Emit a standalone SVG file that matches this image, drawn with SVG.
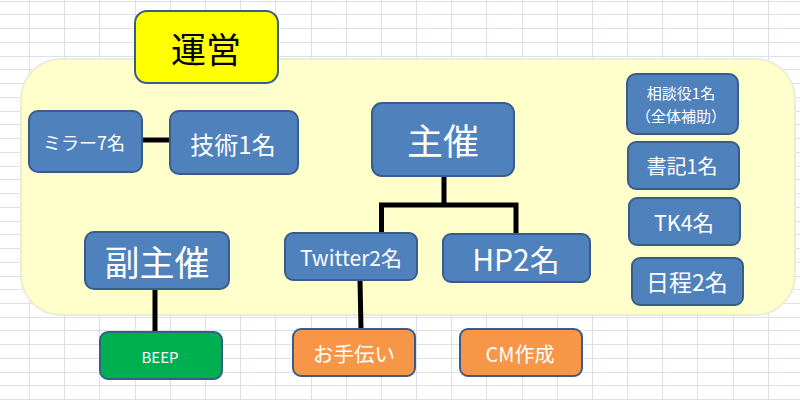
<svg xmlns="http://www.w3.org/2000/svg" width="800" height="400" viewBox="0 0 800 400">
<style>
text{font-family:"Noto Sans CJK JP","Noto Sans",sans-serif;text-anchor:middle;dominant-baseline:central;fill:#fff}
.grid{stroke:#dce0eb;stroke-width:1;fill:none}
.blue{fill:#4f81bd;stroke:#385d8a;stroke-width:2}
.green{fill:#00b050;stroke:#385d8a;stroke-width:2}
.orange{fill:#f79646;stroke:#385d8a;stroke-width:2}
.conn{stroke:#000;stroke-width:5;fill:none;stroke-linejoin:miter}
</style>
<rect width="800" height="400" fill="#fff"/>
<path class="grid" d="M29.5 0V400M64.5 0V400M99.5 0V400M135.5 0V400M170.5 0V400M205.5 0V400M240.5 0V400M275.5 0V400M311.5 0V400M346.5 0V400M381.5 0V400M416.5 0V400M451.5 0V400M486.5 0V400M522.5 0V400M557.5 0V400M592.5 0V400M627.5 0V400M662.5 0V400M697.5 0V400M733.5 0V400M768.5 0V400
M0 1.5H800M0 14.5H800M0 28.5H800M0 42.5H800M0 56.5H800M0 69.5H800M0 83.5H800M0 97.5H800M0 111.5H800M0 124.5H800M0 138.5H800M0 152.5H800M0 166.5H800M0 179.5H800M0 193.5H800M0 207.5H800M0 221.5H800M0 234.5H800M0 248.5H800M0 262.5H800M0 276.5H800M0 289.5H800M0 303.5H800M0 317.5H800M0 330.5H800M0 344.5H800M0 358.5H800M0 372.5H800M0 385.5H800M0 399.5H800"/>
<g id="panel"><rect x="21" y="59" width="774" height="256" rx="40" fill="#ffffcc" stroke="#eeecd6" stroke-width="2"/></g>
<g id="title"><rect x="135" y="11" width="143" height="72" rx="12" fill="#ffff00" stroke="#385d8a" stroke-width="2"/><text x="206" y="47" font-size="35" style="fill:#000">運営</text></g>
<g id="connectors">
<path class="conn" d="M141 140H171"/>
<path class="conn" d="M444 175V205H381.5V233M444 205H516V234"/>
<path class="conn" d="M155 289V332"/>
<path class="conn" d="M360 280L361 329"/>
</g>
<g id="mirror"><rect class="blue" x="29" y="111" width="113" height="61" rx="9"/><text x="84" y="142" font-size="18">ミラー7名</text></g>
<g id="gijutsu"><rect class="blue" x="170" y="111" width="128" height="63" rx="9"/><text x="233" y="143" font-size="24">技術1名</text></g>
<g id="shusai"><rect class="blue" x="372" y="103" width="142" height="73" rx="10"/><text x="443" y="139" font-size="36">主催</text></g>
<g id="fukushusai"><rect class="blue" x="85" y="232" width="144" height="57" rx="9"/><text x="157" y="260" font-size="35">副主催</text></g>
<g id="twitter"><rect class="blue" x="285" y="233" width="132" height="47" rx="8"/><text x="351" y="257" font-size="21">Twitter2名</text></g>
<g id="hp"><rect class="blue" x="443" y="234" width="147" height="48" rx="8"/><text x="516" y="258" font-size="30">HP2名</text></g>
<g id="beep"><rect class="green" x="100" y="332" width="122" height="47" rx="8"/><text x="160" y="356" font-size="15">BEEP</text></g>
<g id="otetsudai"><rect class="orange" x="293" y="329" width="122" height="47" rx="8"/><text x="354" y="353" font-size="20.5">お手伝い</text></g>
<g id="cm"><rect class="orange" x="460" y="329" width="122" height="47" rx="8"/><text x="520" y="353" font-size="20">CM作成</text></g>
<g id="sodan"><rect class="blue" x="627" y="74" width="111" height="60" rx="9"/><text x="681" y="92.5" font-size="15">相談役1名</text><text x="681" y="115" font-size="15">（全体補助）</text></g>
<g id="shoki"><rect class="blue" x="628" y="142" width="111" height="47" rx="8"/><text x="682" y="165" font-size="20">書記1名</text></g>
<g id="tk"><rect class="blue" x="629" y="198" width="111" height="47" rx="8"/><text x="684" y="221" font-size="21.5">TK4名</text></g>
<g id="nittei"><rect class="blue" x="632" y="258" width="111" height="47" rx="8"/><text x="687" y="281" font-size="23">日程2名</text></g>
</svg>
